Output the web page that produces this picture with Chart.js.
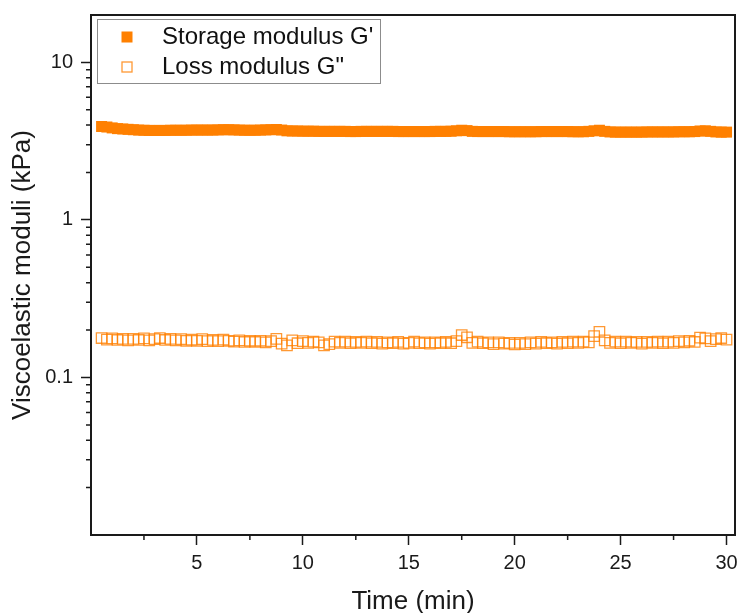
<!DOCTYPE html>
<html lang="en">
<head>
    <meta charset="UTF-8">
    <title>Viscoelastic moduli vs time</title>
    <style>
        body {
            margin: 0;
            background: #fff;
        }
        #wrap {
            width: 738px;
            height: 613px;
        }
    </style>
</head>
<body>
    <div id="wrap">
        <canvas id="chart" width="738" height="613"></canvas>
    </div>

    <script src="https://cdn.jsdelivr.net/npm/chart.js"></script>
    <script>
        // time in minutes
        const time = [
            0.5, 0.75,
            1, 1.25, 1.5, 1.75,   2, 2.25, 2.5, 2.75,   3, 3.25, 3.5, 3.75,
            4, 4.25, 4.5, 4.75,   5, 5.25, 5.5, 5.75,   6, 6.25, 6.5, 6.75,
            7, 7.25, 7.5, 7.75,   8, 8.25, 8.5, 8.75,   9, 9.25, 9.5, 9.75,
            10, 10.25, 10.5, 10.75, 11, 11.25, 11.5, 11.75, 12, 12.25, 12.5, 12.75,
            13, 13.25, 13.5, 13.75, 14, 14.25, 14.5, 14.75, 15, 15.25, 15.5, 15.75,
            16, 16.25, 16.5, 16.75, 17, 17.25, 17.5, 17.75, 18, 18.25, 18.5, 18.75,
            19, 19.25, 19.5, 19.75, 20, 20.25, 20.5, 20.75, 21, 21.25, 21.5, 21.75,
            22, 22.25, 22.5, 22.75, 23, 23.25, 23.5, 23.75, 24, 24.25, 24.5, 24.75,
            25, 25.25, 25.5, 25.75, 26, 26.25, 26.5, 26.75, 27, 27.25, 27.5, 27.75,
            28, 28.25, 28.5, 28.75, 29, 29.25, 29.5, 29.75,
            30
        ];

        // storage modulus G' (kPa)
        const storageModulus = [
            3.92, 3.89,
            3.84, 3.80, 3.78, 3.76,   3.74, 3.72, 3.71, 3.70,   3.70, 3.70, 3.70, 3.71,
            3.71, 3.71, 3.71, 3.72,   3.72, 3.72, 3.72, 3.72,   3.73, 3.74, 3.74, 3.73,
            3.72, 3.71, 3.71, 3.71,   3.72, 3.73, 3.74, 3.75,   3.72, 3.68, 3.67, 3.67,
            3.66, 3.66, 3.66, 3.65,   3.65, 3.65, 3.65, 3.65,   3.65, 3.64, 3.64, 3.65,
            3.65, 3.65, 3.65, 3.65,   3.65, 3.65, 3.64, 3.64,   3.64, 3.64, 3.64, 3.64,
            3.64, 3.65, 3.65, 3.65,   3.66, 3.68, 3.71, 3.69,   3.65, 3.64, 3.64, 3.64,
            3.64, 3.64, 3.64, 3.63,   3.63, 3.63, 3.63, 3.63,   3.63, 3.64, 3.64, 3.64,
            3.64, 3.64, 3.64, 3.63,   3.63, 3.63, 3.65, 3.68,   3.71, 3.65, 3.62, 3.61,
            3.61, 3.61, 3.61, 3.61,   3.61, 3.62, 3.62, 3.62,   3.62, 3.62, 3.62, 3.63,
            3.63, 3.63, 3.64, 3.67,   3.68, 3.65, 3.62, 3.61,
            3.61
        ];

        // loss modulus G'' (kPa)
        const lossModulus = [
            0.178, 0.174,
            0.177, 0.173, 0.176, 0.172,   0.176, 0.173, 0.177, 0.172,   0.175, 0.178, 0.173, 0.176,
            0.172, 0.175, 0.171, 0.174,   0.171, 0.175, 0.170, 0.173,   0.170, 0.174, 0.171, 0.169,
            0.172, 0.168, 0.171, 0.168,   0.171, 0.167, 0.170, 0.176,   0.164, 0.160, 0.172, 0.165,
            0.170, 0.166, 0.169, 0.167,   0.160, 0.163, 0.169, 0.166,   0.169, 0.165, 0.168, 0.166,
            0.169, 0.165, 0.168, 0.164,   0.167, 0.165, 0.168, 0.164,   0.166, 0.169, 0.165, 0.167,
            0.164, 0.167, 0.165, 0.168,   0.165, 0.170, 0.186, 0.180,   0.166, 0.169, 0.165, 0.167,
            0.163, 0.167, 0.164, 0.166,   0.162, 0.166, 0.163, 0.167,   0.164, 0.168, 0.165, 0.167,
            0.164, 0.168, 0.165, 0.169,   0.166, 0.169, 0.167, 0.183,   0.195, 0.172, 0.166, 0.169,
            0.165, 0.169, 0.166, 0.168,   0.164, 0.168, 0.166, 0.169,   0.165, 0.169, 0.166, 0.170,
            0.167, 0.171, 0.168, 0.179,   0.177, 0.170, 0.175, 0.178,
            0.174
        ];

        const xTicks = [5, 10, 15, 20, 25, 30];
        const xMinorTicks = [2.5, 7.5, 12.5, 17.5, 22.5, 27.5];
        const yTicks = [0.1, 1, 10];
        const yMinorTicks = [0.02, 0.03, 0.04, 0.05, 0.06, 0.07, 0.08, 0.09,
                             0.2, 0.3, 0.4, 0.5, 0.6, 0.7, 0.8, 0.9,
                             2, 3, 4, 5, 6, 7, 8, 9, 20];

        const orange = '#ff8000';
        const axisColor = '#1a1a1a';

        Chart.defaults.font.family = 'Arial, "Liberation Sans", sans-serif';
        Chart.defaults.color = axisColor;

        // frame round the plot + small minor ticks
        const framePlugin = {
            id: 'frame',
            afterDatasetsDraw(chart) {
                const { ctx, chartArea: a, scales } = chart;
                ctx.save();
                ctx.strokeStyle = axisColor;
                ctx.lineWidth = 2;
                ctx.strokeRect(a.left, a.top, a.right - a.left, a.bottom - a.top);

                ctx.lineWidth = 1.5;
                ctx.beginPath();
                xMinorTicks.forEach(v => {
                    const px = scales.x.getPixelForValue(v);
                    ctx.moveTo(px, a.bottom);
                    ctx.lineTo(px, a.bottom + 5);
                });
                yMinorTicks.forEach(v => {
                    if (v <= scales.y.min || v >= scales.y.max) return;
                    const py = scales.y.getPixelForValue(v);
                    ctx.moveTo(a.left, py);
                    ctx.lineTo(a.left - 5, py);
                });
                ctx.stroke();
                ctx.restore();
            }
        };

        // boxed legend inside the plot, top left
        const boxLegend = {
            id: 'boxLegend',
            afterDraw(chart) {
                const { ctx, chartArea: a } = chart;
                const x0 = a.left + 6, y0 = a.top + 4;
                ctx.save();
                ctx.fillStyle = '#fff';
                ctx.fillRect(x0, y0, 283, 64);
                ctx.strokeStyle = '#8c8c8c';
                ctx.lineWidth = 1;
                ctx.strokeRect(x0 + 0.5, y0 + 0.5, 283, 64);

                chart.data.datasets.forEach((ds, i) => {
                    const cy = y0 + 18 + i * 30;
                    const cx = x0 + 30;
                    if (i === 0) {
                        ctx.fillStyle = ds.backgroundColor;
                        ctx.fillRect(cx - 5.5, cy - 5.5, 11, 11);
                    } else {
                        ctx.strokeStyle = ds.borderColor;
                        ctx.lineWidth = 1.3;
                        ctx.strokeRect(cx - 5, cy - 5, 10, 10);
                    }
                    ctx.fillStyle = '#111';
                    ctx.font = '24px Arial, "Liberation Sans", sans-serif';
                    ctx.textBaseline = 'middle';
                    ctx.textAlign = 'left';
                    ctx.fillText(ds.label, x0 + 65, cy);
                });
                ctx.restore();
            }
        };

        const ctx = document.getElementById('chart').getContext('2d');
        new Chart(ctx, {
            type: 'scatter',
            data: {
                datasets: [{
                    label: "Storage modulus G'",
                    data: time.map((t, i) => ({ x: t, y: storageModulus[i] })),
                    pointStyle: 'rect',
                    pointRadius: 7.8,
                    backgroundColor: orange,
                    borderColor: orange,
                    borderWidth: 0
                },
                {
                    label: 'Loss modulus G"',
                    data: time.map((t, i) => ({ x: t, y: lossModulus[i] })),
                    pointStyle: 'rect',
                    pointRadius: 7.4,
                    backgroundColor: 'rgba(0,0,0,0)',
                    borderColor: 'rgba(255,128,0,0.8)',
                    borderWidth: 1.3
                }]
            },
            options: {
                responsive: false,
                animation: false,
                layout: {
                    autoPadding: false,
                    padding: { top: 15, right: 3, left: 0, bottom: 0 }
                },
                plugins: {
                    legend: { display: false },
                    tooltip: { enabled: false }
                },
                scales: {
                    x: {
                        type: 'linear',
                        min: 0,
                        max: 30.4,
                        afterBuildTicks: scale => { scale.ticks = xTicks.map(v => ({ value: v })); },
                        afterFit: scale => {
                            scale.height = 78;
                            scale.paddingLeft = 0;
                            scale.paddingRight = 0;
                        },
                        grid: {
                            drawOnChartArea: false,
                            tickLength: 10,
                            tickColor: axisColor,
                            tickWidth: 1.5
                        },
                        border: { color: axisColor, width: 2 },
                        ticks: {
                            font: { size: 20 },
                            color: axisColor,
                            padding: 6,
                            maxRotation: 0,
                            callback: v => String(v)
                        },
                        title: {
                            display: true,
                            text: 'Time (min)',
                            font: { size: 26, lineHeight: 1 },
                            color: axisColor,
                            padding: { top: 0, bottom: -2 }
                        }
                    },
                    y: {
                        type: 'logarithmic',
                        min: 0.01,
                        max: 20,
                        afterBuildTicks: scale => { scale.ticks = yTicks.map(v => ({ value: v })); },
                        afterFit: scale => {
                            scale.width = 91;
                            scale.paddingTop = 0;
                            scale.paddingBottom = 0;
                        },
                        grid: {
                            drawOnChartArea: false,
                            tickLength: 10,
                            tickColor: axisColor,
                            tickWidth: 1.5
                        },
                        border: { color: axisColor, width: 2 },
                        ticks: {
                            font: { size: 20 },
                            color: axisColor,
                            padding: 8,
                            callback: v => String(v)
                        },
                        title: {
                            display: true,
                            text: 'Viscoelastic moduli (kPa)',
                            font: { size: 26, lineHeight: 1 },
                            color: axisColor,
                            padding: { top: 10, bottom: 0 }
                        }
                    }
                }
            },
            plugins: [framePlugin, boxLegend]
        });
    </script>
</body>
</html>
